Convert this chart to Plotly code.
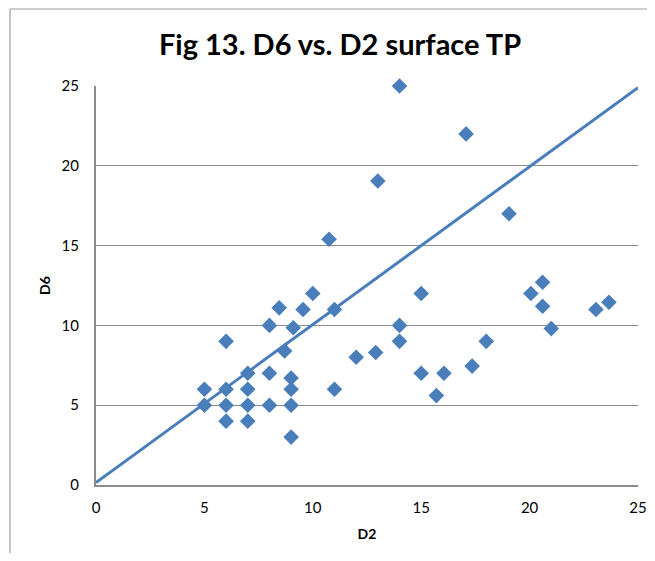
import plotly.graph_objects as go

# Data
d2 = [5, 5, 6, 6, 6, 6, 7, 7, 7, 7, 8, 8, 8, 8.45, 8.7, 9.1, 9, 9, 9, 9,
      9.55, 10, 10.75, 11, 11, 12, 12.9, 13, 14, 14, 14, 15, 15, 15.7, 16.05,
      17.35, 17.07, 18, 19.05, 20.06, 20.6, 20.6, 21, 23.06, 23.66]
d6 = [6, 5, 9, 6, 5, 4, 7, 6, 5, 4, 10, 7, 5, 11.1, 8.4, 9.85, 6.7, 6, 5, 3,
      11, 12, 15.4, 11, 6, 8, 8.3, 19.05, 25, 10, 9, 12, 7, 5.6, 7,
      7.45, 22, 9, 17, 12, 12.7, 11.2, 9.8, 11, 11.45]
line_x = [0, 25]
line_y = [0.15, 24.9]
tick_vals = [0, 5, 10, 15, 20, 25]

blue = "#4A7EBB"
grid = "#8C8C8C"
font_family = "Lato, 'Liberation Sans', sans-serif"

fig = go.Figure()
fig.add_trace(go.Scatter(x=line_x, y=line_y, mode="lines",
                         line=dict(color=blue, width=3), showlegend=False,
                         hoverinfo="skip", cliponaxis=False))
fig.add_trace(go.Scatter(x=d2, y=d6, mode="markers",
                         marker=dict(symbol="diamond", size=12, color=blue,
                                     line=dict(width=0)),
                         showlegend=False, cliponaxis=False))

# page offset of the figure (default body margin)
OFF = 8
# plot area in window pixels: x 96..638, y 86..485
L, R, T, B = 96, 638, 86, 485
W, H = 655, 561
px_w = R - L
px_h = B - T
bx = (10 - L) / px_w
by = (B - 9) / px_h
fig.add_shape(type="line", xref="paper", yref="paper",
              x0=bx, x1=bx, y0=by, y1=(B - 600) / px_h,
              line=dict(color="#A0A0A0", width=1.2))
fig.add_shape(type="line", xref="paper", yref="paper",
              x0=bx, x1=(700 - L) / px_w, y0=by, y1=by,
              line=dict(color="#A0A0A0", width=1.2))

fw, fh = W - 2 * OFF, H - 2 * OFF
fig.update_layout(
    width=fw, height=fh, autosize=False,
    margin=dict(l=L - OFF, r=W - R - OFF, t=T - OFF, b=H - B - OFF, pad=0,
                autoexpand=False),
    paper_bgcolor="white", plot_bgcolor="white",
    font=dict(family=font_family, color="#000000", size=15),
    title=dict(text="<b>Fig 13. D6 vs. D2 surface TP</b>",
               x=(340 - OFF) / fw, xanchor="center",
               y=1 - (45 - OFF) / fh, yanchor="middle",
               font=dict(size=29, family=font_family, color="#000000")),
    xaxis=dict(range=[0, 25], tickvals=tick_vals, showgrid=False,
               showline=True, linecolor=grid, linewidth=2, automargin=False,
               ticks="", zeroline=False, ticklabelstandoff=8,
               title=dict(text="<b>D2</b>", font=dict(size=14), standoff=14),
               tickfont=dict(size=15)),
    yaxis=dict(range=[0, 25], tickvals=tick_vals, showgrid=True,
               gridcolor=grid, gridwidth=1.2, automargin=False,
               showline=True, linecolor=grid, linewidth=2,
               ticks="", zeroline=False, ticklabelstandoff=12,
               title=dict(text="<b>D6</b>", font=dict(size=14), standoff=8),
               tickfont=dict(size=15)),
)

fig.write_html("out.html")
